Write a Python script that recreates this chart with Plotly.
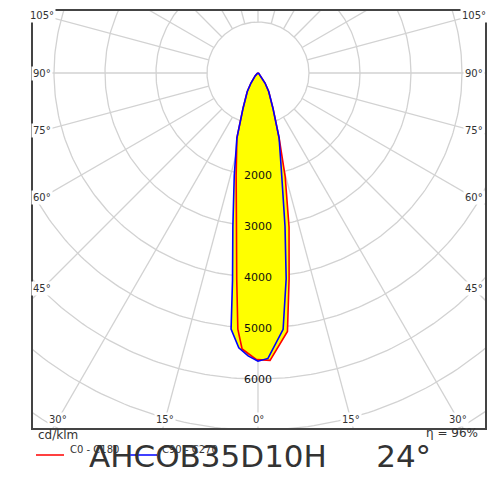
import numpy as np
import plotly.graph_objects as go

# intensity in cd/klm vs angle from nadir (degrees)
c0_angles = [0, 2.4, 4, 6.5, 8.6, 11.4, 14.7, 18, 23, 30, 35, 45, 60, 90]
c0_values = [5620, 5640, 5420, 5100, 4080, 3080, 2100, 1340, 750, 420, 240, 80, 15, 0]
c180_angles = [0, 3.3, 4.5, 5.9, 8.1, 12, 18, 23, 30, 35, 45, 60, 90]
c180_values = [5640, 5420, 5040, 4060, 3000, 2060, 1340, 750, 420, 240, 80, 15, 0]
c90_angles = [0, 2, 5.6, 7.8, 10, 13, 18, 23, 30, 35, 45, 60, 90]
c90_values = [5650, 5600, 5050, 4070, 3050, 2070, 1340, 750, 420, 240, 80, 15, 0]
c270_angles = [0, 2, 4, 6, 7, 9.3, 13, 18, 23, 30, 35, 45, 60, 90]
c270_values = [5650, 5550, 5400, 5050, 4100, 3050, 2070, 1340, 750, 420, 240, 80, 15, 0]

radial_ticks = [2000, 3000, 4000, 5000, 6000]
side_angles = [105, 90, 75, 60, 45]
bottom_angles = [30, 15, 0]

GRID = "#d2d2d2"
TXT = "#333333"
PX = 51 / 1000  # pixels per cd/klm


def outline(left_a, left_v, right_a, right_v):
    la, lv = np.radians(left_a), np.array(left_v, float)
    ra, rv = np.radians(right_a), np.array(right_v, float)
    x = np.concatenate([-(lv * np.sin(la))[::-1], rv * np.sin(ra)])
    y = np.concatenate([-(lv * np.cos(la))[::-1], -rv * np.cos(ra)])
    return x, y


fig = go.Figure()

# grid circles and rays
t = np.linspace(0, 2 * np.pi, 361)
for r in range(1000, 10001, 1000):
    fig.add_trace(go.Scatter(x=r * np.cos(t), y=r * np.sin(t), mode="lines",
                             line=dict(color=GRID, width=1.3), hoverinfo="skip"))
for a in range(0, 360, 15):
    th = np.radians(a)
    fig.add_trace(go.Scatter(x=[1000 * np.sin(th), 12000 * np.sin(th)],
                             y=[-1000 * np.cos(th), -12000 * np.cos(th)], mode="lines",
                             line=dict(color=GRID, width=1.3), hoverinfo="skip"))

xr, yr = outline(c180_angles, c180_values, c0_angles, c0_values)
xb, yb = outline(c270_angles, c270_values, c90_angles, c90_values)
for x, y in [(xr, yr), (xb, yb)]:
    fig.add_trace(go.Scatter(x=x, y=y, mode="lines", fill="toself", fillcolor="#ffff00",
                             line=dict(width=0), hoverinfo="skip"))
fig.add_trace(go.Scatter(x=xr, y=yr, mode="lines", line=dict(color="#ff0000", width=1.6)))
fig.add_trace(go.Scatter(x=xb, y=yb, mode="lines", line=dict(color="#0000ff", width=1.6)))

ann = []
for v in radial_ticks:
    ann.append(dict(x=0, y=-v, text=str(v), showarrow=False,
                    font=dict(size=11, color="#111")))
X = 4230
for a in side_angles:
    y = -X / np.tan(np.radians(a))
    for s in (-1, 1):
        ann.append(dict(x=s * X, y=y, text=f"{a}°", showarrow=False, bgcolor="white",
                        font=dict(size=10, color=TXT)))
Y = 6790
for a in bottom_angles:
    x = Y * np.tan(np.radians(a))
    for s in ((-1, 1) if a else (1,)):
        ann.append(dict(x=s * x, y=-Y, text=f"{a}°", showarrow=False, bgcolor="white",
                        font=dict(size=10, color=TXT)))

paper = dict(xref="paper", yref="paper", showarrow=False)
ann += [
    dict(x=28 / 500, y=1 - 436 / 500, text="cd/klm", xanchor="left",
         font=dict(size=12, color=TXT), **paper),
    dict(x=60 / 500, y=1 - 449 / 500, text="C0 - C180", xanchor="left",
         font=dict(size=10, color=TXT), **paper),
    dict(x=152 / 500, y=1 - 449 / 500, text="C90 - C270", xanchor="left",
         font=dict(size=10, color=TXT), **paper),
    dict(x=472 / 500, y=1 - 434 / 500, text="η = 96%", xanchor="right",
         font=dict(size=12, color=TXT), **paper),
    dict(x=252 / 500, y=1 - 468 / 500, text="AHCOB35D10H&nbsp;&nbsp;&nbsp;&nbsp;&nbsp;24°",
         font=dict(size=31, color=TXT), **paper),
]

shapes = [
    dict(type="rect", xref="paper", yref="paper", x0=24 / 500, x1=478 / 500,
         y0=1 - 421 / 500, y1=1 - 2 / 500, line=dict(color="#444", width=2)),
    dict(type="line", xref="paper", yref="paper", x0=28 / 500, x1=56 / 500,
         y0=1 - 447 / 500, y1=1 - 447 / 500, line=dict(color="#ff0000", width=1.5)),
    dict(type="line", xref="paper", yref="paper", x0=120 / 500, x1=149 / 500,
         y0=1 - 447 / 500, y1=1 - 447 / 500, line=dict(color="#0000ff", width=1.5)),
]

fig.update_layout(
    width=500, height=500, margin=dict(l=0, r=0, t=0, b=0),
    paper_bgcolor="white", plot_bgcolor="white", showlegend=False,
    font=dict(family="DejaVu Sans"),
    xaxis=dict(range=[(24 - 250) / PX, (478 - 250) / PX], domain=[24 / 500, 478 / 500],
               visible=False, fixedrange=True),
    yaxis=dict(range=[-(421 - 65) / PX, (65 - 2) / PX], domain=[1 - 421 / 500, 1 - 2 / 500],
               visible=False, fixedrange=True),
    annotations=ann, shapes=shapes,
)
fig.write_html("out.html")
